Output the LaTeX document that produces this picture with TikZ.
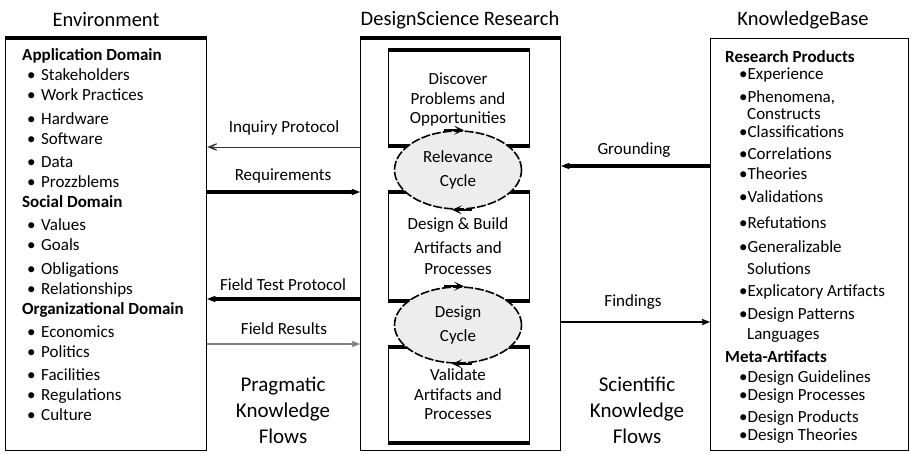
\documentclass[tikz,border=0pt]{standalone}
\usepackage{fontspec}
\setmainfont{Carlito}
\usetikzlibrary{arrows.meta,shapes.geometric}
\begin{document}
\begin{tikzpicture}[x=1pt,y=-1pt,
  every node/.style={font=\fontsize{17}{19}\selectfont, inner sep=0pt},
  titletext/.style={font=\fontsize{20.5}{22}\selectfont},
  flowtext/.style={font=\fontsize{21}{26}\selectfont, align=center},
  box/.style={draw, line width=1.2pt, anchor=north west, inner sep=0pt},
  thicktop/.style={line width=4pt},
  itemtext/.style={anchor=mid west},
  headtext/.style={anchor=mid west, font=\fontsize{17}{19}\selectfont\bfseries},
  arr/.style={-{Stealth[length=15pt,width=12pt,inset=10pt]}},
  thickline/.style={arr, line width=4pt},
  thinline/.style={arr, line width=1pt, black!80},
  grayline/.style={arr, line width=1.5pt, black!50},
  midline/.style={arr, line width=2pt},
  cycle/.style={ellipse, draw, fill=black!7, line width=1.6pt, dash pattern=on 9pt off 2pt,
                minimum width=127pt, minimum height=78pt, align=center,
                font=\fontsize{17}{24}\selectfont},
  cyctip/.style={-{Stealth[length=10pt,width=9pt,inset=5pt]}, line width=1.6pt},
  inner/.style={box, minimum width=141pt, align=center},
]
\useasboundingbox (0,0) rectangle (911,453);

% titles
\node[titletext] (tenv) at (106,20) {Environment};
\node[titletext] (tdsr) at (460,20) {DesignScience Research};
\node[titletext] (tkb) at (803,20) {KnowledgeBase};

% outer boxes
\node[box, minimum width=201pt, minimum height=412pt] (env) at (5,38) {};
\draw[thicktop] (env.north west) -- (env.north east);
\node[box, minimum width=200pt, minimum height=412pt] (dsr) at (360,38) {};
\draw[thicktop] (dsr.north west) -- (dsr.north east);
\node[box, minimum width=198pt, minimum height=412pt] (kb) at (710,38) {};

% inner boxes
\node[inner, minimum height=95pt] (b1) at (388,50) {};
\node[inner, minimum height=108pt] (b2) at (388,192) {};
\node[inner, minimum height=95pt] (b3) at (388,347) {};
\foreach \b in {b1,b2,b3}{
  \draw[thicktop] (\b.north west) -- (\b.north east);
  \draw[thicktop] (\b.south west) -- (\b.south east);
}
\node (t1a) at (458,79) {Discover};
\node (t1b) at (458,99) {Problems and};
\node (t1c) at (458,119) {Opportunities};
\node (t2a) at (458,225) {Design \& Build};
\node (t2b) at (458,248) {Artifacts and};
\node (t2c) at (458,269) {Processes};
\node (t3a) at (458,375) {Validate};
\node (t3b) at (458,395) {Artifacts and};
\node (t3c) at (458,414) {Processes};

% cycles
\node[cycle] (rc) at (458,170) {Relevance\\Cycle};
\node[cycle, minimum height=76pt] (dc) at (458,325) {Design\\Cycle};
\foreach \e in {rc,dc}{
  \draw[cyctip] ([xshift=-14pt]\e.north) -- ([xshift=6pt]\e.north);
  \draw[cyctip] ([xshift=14pt]\e.south) -- ([xshift=-6pt]\e.south);
}

% environment list
\node[headtext] (a0) at (22,58) {Application Domain};
\foreach \y/\t [count=\i] in {78/Stakeholders,98/Work Practices,122/Hardware,142/Software,165/Data,185/Prozzblems}
  \node[itemtext] (a\i) at (27,\y) {\makebox[14pt][l]{•}\t};
\node[headtext] (s0) at (22,205) {Social Domain};
\foreach \y/\t [count=\i] in {228/Values,248/Goals,272/Obligations,292/Relationships}
  \node[itemtext] (s\i) at (27,\y) {\makebox[14pt][l]{•}\t};
\node[headtext] (o0) at (22,312) {Organizational Domain};
\foreach \y/\t [count=\i] in {335/Economics,355/Politics,378/Facilities,398/Regulations,418/Culture}
  \node[itemtext] (o\i) at (27,\y) {\makebox[14pt][l]{•}\t};

% knowledge base list
\node[headtext] (r0) at (725,60) {Research Products};
\foreach \y/\t [count=\i] in {77/Experience,100/{Phenomena,},135/Classifications,157/Correlations,177/Theories,200/Validations,226/Refutations,250/Generalizable,294/Explicatory Artifacts,317/Design Patterns}
  \node[itemtext] (r\i) at (739,\y) {•\t};
\node[itemtext] (rc1) at (747,117) {Constructs};
\node[itemtext] (rc2) at (747,272) {Solutions};
\node[itemtext] (rc3) at (747,337) {Languages};
\node[headtext] (m0) at (725,360) {Meta-Artifacts};
\foreach \y/\t [count=\i] in {380/Design Guidelines,398/Design Processes,420/Design Products,438/Design Theories}
  \node[itemtext] (m\i) at (739,\y) {•\t};

% flow labels
\node[flowtext] (pkf) at (283,410) {Pragmatic\\Knowledge\\Flows};
\node[flowtext] (skf) at (637,410) {Scientific\\Knowledge\\Flows};

% connectors
\draw[thinline] (dsr.west |- 0,147) -- (env.east |- 0,147);
\node (lin) at (284,128) {Inquiry Protocol};
\draw[thickline] (env.east |- 0,192) -- (dsr.west |- 0,192);
\node (lreq) at (283,176) {Requirements};
\draw[thickline] (dsr.west |- 0,299) -- (env.east |- 0,299);
\node (lft) at (283,285) {Field Test Protocol};
\draw[grayline] (env.east |- 0,344) -- (dsr.west |- 0,344);
\node (lfr) at (284,329) {Field Results};
\draw[thickline] (kb.west |- 0,166) -- (dsr.east |- 0,166);
\node (lgr) at (634,150) {Grounding};
\draw[midline] (dsr.east |- 0,322) -- (kb.west |- 0,322);
\node (lfi) at (633,302) {Findings};
\end{tikzpicture}
\end{document}
